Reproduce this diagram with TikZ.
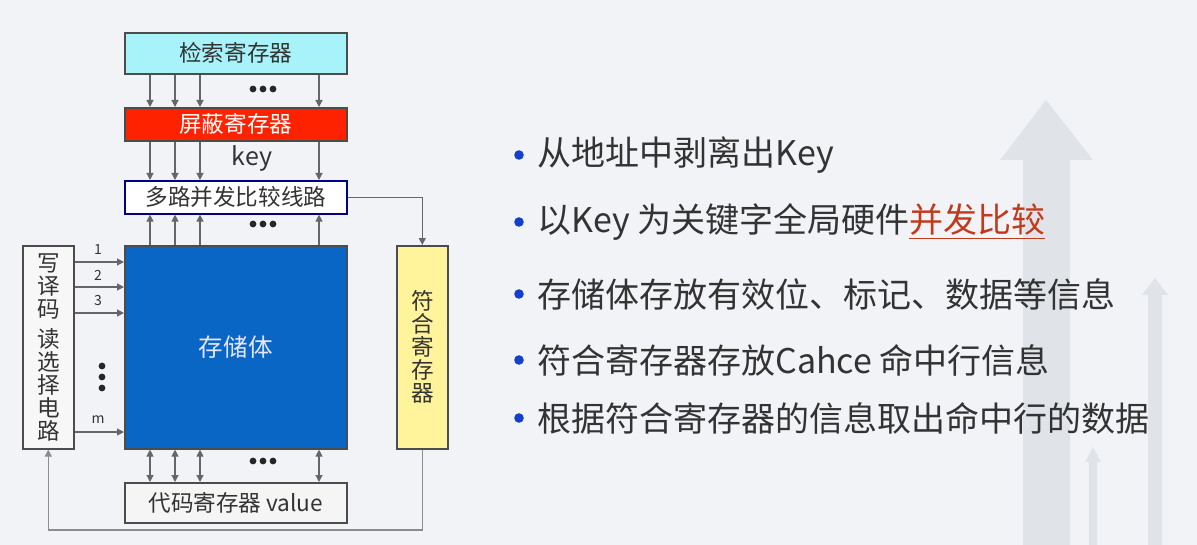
\documentclass[tikz,border=0pt]{standalone}
\usepackage{fontspec}
\setmainfont{Noto Sans CJK SC}
\usetikzlibrary{arrows.meta}
\definecolor{bgcol}{HTML}{F2F3F6}
\definecolor{bgarrow}{HTML}{E0E4E9}
\definecolor{searchcol}{HTML}{A8F3FA}
\definecolor{maskcol}{HTML}{FF2200}
\definecolor{storecol}{HTML}{0A66C4}
\definecolor{matchcol}{HTML}{FFF49C}
\definecolor{txtcol}{HTML}{333333}
\definecolor{hotcol}{HTML}{C23A1C}
\definecolor{dotcol}{HTML}{1440CC}

\begin{document}
\begin{tikzpicture}[x=0.5pt,y=-0.5pt]
\tikzstyle{every node}=[inner sep=0pt, text=txtcol]
\tikzstyle{reg} = [draw=black!70, line width=0.8pt, anchor=north west, font=\fontsize{11.3}{11.5}\selectfont]
\tikzstyle{wide} = [reg, minimum width=111pt]
\tikzstyle{tall} = [reg, minimum width=25.5pt, minimum height=101.5pt, align=center]
\tikzstyle{sig} = [draw=black!60, line width=0.6pt, -{Triangle[length=3.5pt,width=3.5pt]}]
\tikzstyle{bus} = [sig, {Triangle[length=3.5pt,width=3.5pt]}-{Triangle[length=3.5pt,width=3.5pt]}]
\tikzstyle{rowlab} = [font=\scriptsize]
\tikzstyle{item} = [anchor=west, font=\fontsize{17}{19}\selectfont]

% background
\useasboundingbox (0,0) rectangle (1197,545);
\fill[bgcol] (0,0) rectangle (1197,545);
\fill[bgarrow] (1000,160) -- (1046,100) -- (1093,160) -- (1070,160) -- (1070,545) -- (1023,545) -- (1023,160) -- cycle;
\fill[bgarrow] (1142,295) -- (1155,278) -- (1168,295) -- (1162,295) -- (1162,545) -- (1148,545) -- (1148,295) -- cycle;
\fill[bgarrow] (1085,462) -- (1093,447) -- (1101,462) -- (1097,462) -- (1097,545) -- (1089,545) -- (1089,462) -- cycle;

% registers
\node[wide, fill=searchcol, minimum height=20.5pt] (search) at (124,32) {检索寄存器};
\node[wide, fill=maskcol, minimum height=16.5pt, text=white] (mask) at (124,107) {屏蔽寄存器};
\node[wide, draw=blue!50!black, fill=white, minimum height=16.5pt] (cmp) at (124,180) {多路并发比较线路};
\node[wide, fill=storecol, minimum height=101.5pt, text=blue!10, font=\fontsize{12.3}{14}\selectfont] (store) at (124,245) {存储体};
\node[tall, fill=white!97!black] (dec) at (22,245) {写\\译\\码\\[3.5pt]读\\选\\择\\电\\路};
\node[tall, fill=matchcol] (match) at (396,245) {符\\合\\寄\\存\\器};
\node[wide, fill=white!96!black, minimum height=20pt] (code) at (124,482) {代码寄存器 value};

% parallel lines
\foreach \c in {150,175,200,319} {
  \draw[sig] (\c,0 |- search.south) -- (\c,0 |- mask.north);
  \draw[sig] (\c,0 |- mask.south) -- (\c,0 |- cmp.north);
  \draw[sig] (\c,0 |- store.north) -- (\c,0 |- cmp.south);
  \draw[bus] (\c,0 |- store.south) -- (\c,0 |- code.north);
}
\foreach \r in {89,224,461}
  \foreach \d in {253,263,273}
    \fill[black!85] (\d,\r) circle (1.7pt);
\node[font=\fontsize{12.5}{14}\selectfont] (key) at (252,158) {key};

% word lines
\foreach \r/\l in {262/1,287/2,313/3,432/m} {
  \draw[sig] (dec.east |- 0,\r) -- (store.west |- 0,\r);
  \node[rowlab] at (98,\r-12) {\l};
}
\foreach \r in {366,377,388}
  \fill[black!85] (102,\r) circle (1.7pt);

% match and feedback
\draw[sig] (cmp.east) -| (match.north);
\draw[sig, draw=black!45] (match.south) -- (match.south |- 0,530) -| (dec.south);

% bullet list
\foreach \y/\t in {155/{从地址中剥离出Key},
                   222/{以Key 为关键字全局硬件{\color{hotcol}\underline{并发比较}}},
                   294/{存储体存放有效位、标记、数据等信息},
                   360/{符合寄存器存放Cahce 命中行信息},
                   418/{根据符合寄存器的信息取出命中行的数据}} {
  \fill[dotcol] (519,\y) circle (2.4pt);
  \node[item] at (537,\y) {\t};
}
\end{tikzpicture}
\end{document}
